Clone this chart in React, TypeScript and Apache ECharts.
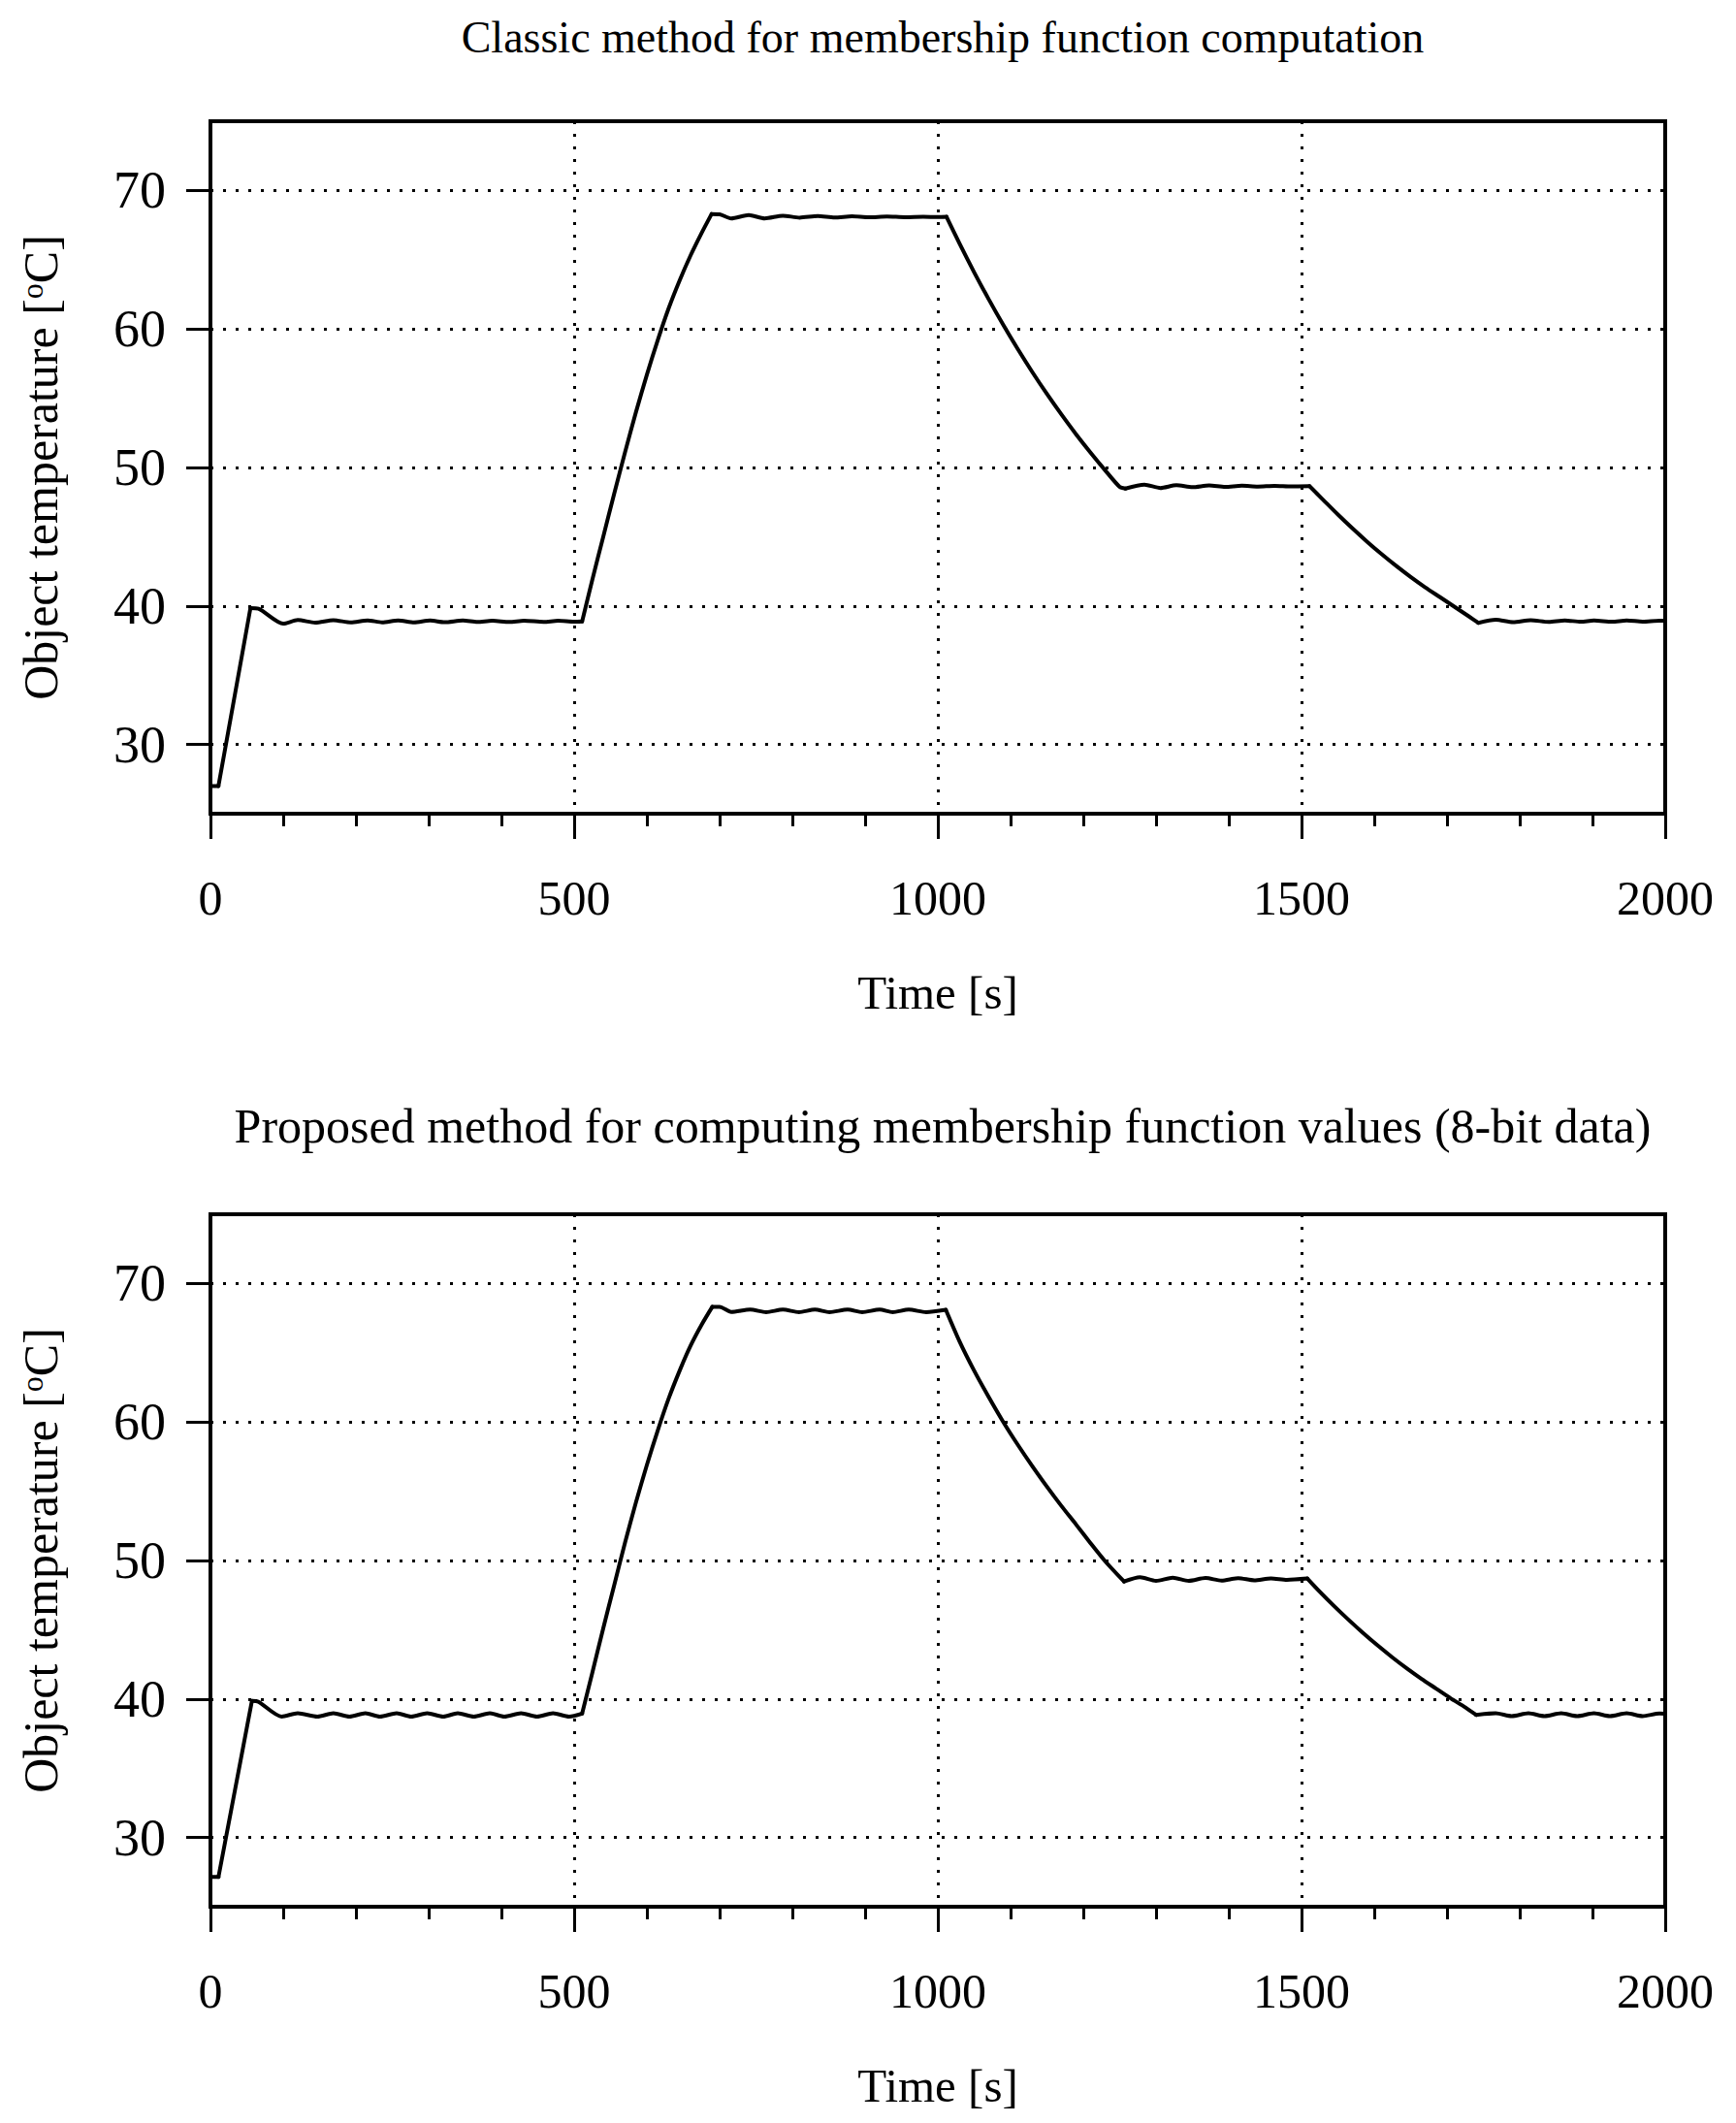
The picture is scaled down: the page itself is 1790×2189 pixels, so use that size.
import React, { useEffect, useRef } from "react";
import * as echarts from "echarts";

// ---------- data ----------
const titleTop = "Classic method for membership function computation";
const titleBottom = "Proposed method for computing membership function values (8-bit data)";
const xName = "Time [s]";
const yName = "Object temperature [{sup|o}C]";
const yTickValues = [30, 40, 50, 60, 70];

// Classic method
const timeTop = [
  0, 11, 55, 66, 100, 120, 144, 169, 193, 216, 236, 258, 280, 302, 322, 347, 367, 387, 411, 431, 458, 478, 500, 511,
  525, 540, 555, 570, 585, 600, 615, 630, 645, 660, 675, 689,
  700, 716, 740, 762, 787, 810, 835, 858, 882, 905, 930, 955, 980, 1000, 1012,
  1030, 1050, 1070, 1090, 1110, 1130, 1150, 1170, 1190, 1210, 1230, 1250, 1258,
  1284, 1306, 1328, 1350, 1373, 1395, 1418, 1440, 1463, 1486, 1511,
  1530, 1550, 1570, 1590, 1610, 1630, 1650, 1670, 1690, 1710, 1730, 1743,
  1767, 1791, 1815, 1840, 1862, 1884, 1902, 1927, 1947, 1969, 1992, 2000,
];
const tempTop = [
  27.0, 27.0, 39.85, 39.8, 38.72, 38.98, 38.8, 38.97, 38.81, 38.96, 38.82, 38.96, 38.82, 38.95, 38.83, 38.95, 38.84, 38.94, 38.84, 38.94, 38.85, 38.93, 38.86, 38.88,
  41.9, 45.0, 48.1, 51.1, 54.0, 56.7, 59.2, 61.5, 63.5, 65.3, 66.9, 68.3,
  68.28, 67.98, 68.22, 67.98, 68.18, 68.04, 68.15, 68.05, 68.13, 68.06, 68.12, 68.07, 68.1, 68.08, 68.1,
  66.15, 64.09, 62.14, 60.29, 58.54, 56.88, 55.31, 53.82, 52.4, 51.07, 49.8, 48.6, 48.48,
  48.76, 48.52, 48.72, 48.58, 48.7, 48.6, 48.68, 48.62, 48.67, 48.63, 48.65,
  47.65, 46.6, 45.6, 44.65, 43.75, 42.9, 42.1, 41.35, 40.65, 39.95, 39.25, 38.78,
  39.0, 38.83, 38.97, 38.85, 38.96, 38.86, 38.95, 38.86, 38.95, 38.87, 38.94, 38.93,
];
// times where the classic curve has a sharp corner
const cornersTop = [11, 55, 511, 689, 1012, 1258, 1511, 1743];

// Proposed method (8-bit data)
const timeBottom = [
  0, 11, 57, 66, 98, 120, 147, 169, 191, 213, 233, 256, 276, 298, 320, 340, 362, 384, 404, 427, 449, 471, 493, 511,
  525, 540, 555, 570, 585, 600, 615, 630, 645, 660, 675, 690,
  700, 716, 742, 764, 787, 809, 831, 851, 876, 896, 920, 938, 960, 984, 1011,
  1030, 1050, 1070, 1090, 1110, 1130, 1150, 1170, 1190, 1210, 1230, 1256,
  1278, 1300, 1323, 1345, 1368, 1390, 1413, 1435, 1458, 1480, 1508,
  1525, 1545, 1565, 1585, 1605, 1625, 1645, 1665, 1685, 1705, 1725, 1740,
  1767, 1789, 1812, 1834, 1857, 1879, 1902, 1924, 1947, 1969, 1992, 2000,
];
const tempBottom = [
  27.15, 27.15, 39.86, 39.8, 38.73, 38.97, 38.73, 38.97, 38.73, 38.97, 38.73, 38.97, 38.73, 38.97, 38.73, 38.97, 38.73, 38.97, 38.73, 38.97, 38.73, 38.97, 38.73, 38.95,
  41.9, 45.1, 48.2, 51.3, 54.2, 56.9, 59.4, 61.7, 63.7, 65.5, 67.0, 68.32,
  68.32, 67.95, 68.12, 67.93, 68.12, 67.93, 68.12, 67.93, 68.12, 67.93, 68.12, 67.93, 68.12, 67.93, 68.1,
  65.8, 63.7, 61.8, 60.0, 58.35, 56.8, 55.33, 53.93, 52.6, 51.25, 49.95, 48.48,
  48.79, 48.53, 48.76, 48.53, 48.74, 48.55, 48.73, 48.57, 48.71, 48.6, 48.7,
  47.75, 46.7, 45.7, 44.75, 43.85, 43.0, 42.2, 41.45, 40.75, 40.05, 39.4, 38.85,
  38.97, 38.76, 38.97, 38.76, 38.97, 38.76, 38.97, 38.76, 38.97, 38.76, 38.95, 38.93,
];
const cornersBottom = [11, 57, 511, 690, 1011, 1256, 1508, 1740];

// ---------- styling ----------
const FONT = "'Liberation Serif', 'Times New Roman', Times, serif";
const BLACK = "#000";
const PLOT_LEFT = 217;
const PLOT_WIDTH = 1500;
const PLOT_HEIGHT = 714;
const PLOT_TOPS = [125, 1252];

// split a curve at its sharp corners so that each piece can be smoothed on its own
function splitAtCorners(times: number[], temps: number[], corners: number[]) {
  const segs: number[][][] = [];
  let cur: number[][] = [];
  times.forEach((t, i) => {
    cur.push([t, temps[i]]);
    if (corners.includes(t)) {
      segs.push(cur);
      cur = [[t, temps[i]]];
    }
  });
  if (cur.length > 1) segs.push(cur);
  return segs;
}

const dotted = { color: BLACK, width: 3, type: [3, 10] as number[] };

function makeX(i: number) {
  return {
    type: "value",
    gridIndex: i,
    min: 0,
    max: 2000,
    interval: 500,
    name: xName,
    nameLocation: "middle",
    nameGap: 160,
    nameTextStyle: { fontFamily: FONT, fontSize: 49, color: BLACK },
    axisLine: { show: true, onZero: false, lineStyle: { color: BLACK, width: 4 } },
    axisTick: { show: true, length: 26, lineStyle: { color: BLACK, width: 3 } },
    minorTick: { show: true, splitNumber: 5, length: 13, lineStyle: { color: BLACK, width: 3 } },
    axisLabel: {
      margin: 62,
      fontFamily: FONT,
      fontSize: 50,
      color: BLACK,
      formatter: (v: number) => String(v),
    },
    splitLine: { show: true, lineStyle: dotted },
    minorSplitLine: { show: false },
  };
}

function makeY(i: number) {
  return {
    type: "value",
    gridIndex: i,
    min: 25,
    max: 75,
    name: yName,
    nameLocation: "middle",
    nameRotate: 90,
    nameGap: 150,
    nameTextStyle: {
      fontFamily: FONT,
      fontSize: 50,
      color: BLACK,
      rich: {
        sup: { fontFamily: FONT, fontSize: 32, color: BLACK, verticalAlign: "top", lineHeight: 34 },
      },
    },
    axisLine: { show: true, onZero: false, lineStyle: { color: BLACK, width: 4 } },
    axisTick: { show: true, length: 25, customValues: yTickValues, lineStyle: { color: BLACK, width: 3 } },
    axisLabel: {
      margin: 46,
      customValues: yTickValues,
      fontFamily: FONT,
      fontSize: 54,
      color: BLACK,
    },
    splitLine: { show: true, lineStyle: dotted },
  };
}

function curveSeries(i: number, times: number[], temps: number[], corners: number[]) {
  return splitAtCorners(times, temps, corners).map((seg) => ({
    type: "line",
    xAxisIndex: i,
    yAxisIndex: i,
    data: seg,
    showSymbol: false,
    smooth: 0.25,
    lineStyle: { color: BLACK, width: 4, cap: "round", join: "round" },
    clip: true,
  }));
}

export default function App() {
  const ref = useRef<HTMLDivElement>(null);

  useEffect(() => {
    document.body.style.margin = "0";
    if (!ref.current) return;
    const chart = echarts.init(ref.current, undefined, { renderer: "svg" });
    const option = {
      animation: false,
      backgroundColor: "#fff",
      title: [
        {
          text: titleTop,
          left: PLOT_LEFT + PLOT_WIDTH / 2,
          top: 10,
          textAlign: "center",
          textStyle: { fontFamily: FONT, fontSize: 46, fontWeight: "normal", color: BLACK },
        },
        {
          text: titleBottom,
          left: PLOT_LEFT + PLOT_WIDTH / 2,
          top: 1131,
          textAlign: "center",
          textStyle: { fontFamily: FONT, fontSize: 50, fontWeight: "normal", color: BLACK },
        },
      ],
      grid: PLOT_TOPS.map((top) => ({
        left: PLOT_LEFT,
        top,
        width: PLOT_WIDTH,
        height: PLOT_HEIGHT,
        show: true,
        borderColor: BLACK,
        borderWidth: 4,
        backgroundColor: "transparent",
        containLabel: false,
      })),
      xAxis: [makeX(0), makeX(1)],
      yAxis: [makeY(0), makeY(1)],
      series: [
        ...curveSeries(0, timeTop, tempTop, cornersTop),
        ...curveSeries(1, timeBottom, tempBottom, cornersBottom),
      ],
    };
    chart.setOption(option as any);
    return () => chart.dispose();
  }, []);

  return <div ref={ref} style={{ width: 1790, height: 2189 }} />;
}
